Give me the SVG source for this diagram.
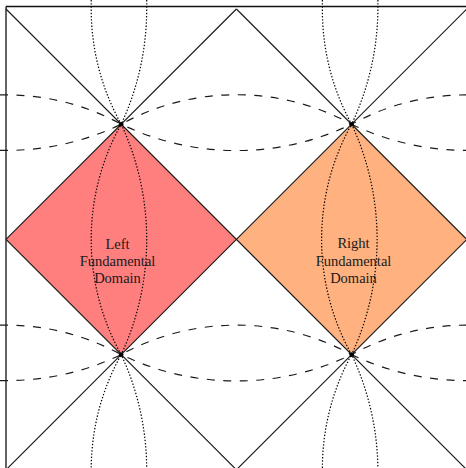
<svg xmlns="http://www.w3.org/2000/svg" width="466" height="468" viewBox="0 0 466 468">
  <style>
    .frame { stroke: #111; stroke-width: 1.3; fill: none; }
    .lattice { stroke: #1a1a1a; stroke-width: 1.15; fill: none; }
    .dash { stroke: #1a1a1a; stroke-width: 1.15; fill: none; stroke-dasharray: 8 8.5; }
    .dot { stroke: #000; stroke-width: 1.2; fill: none; stroke-dasharray: 1.4 1.8; }
    .lbl { font-family: "Liberation Serif", "Times New Roman", serif; font-size: 14.5px; fill: #1a1a1a; text-anchor: middle; }
    .vtx { fill: #000; }
  </style>
  <rect width="466" height="468" fill="#ffffff"/>

  <g id="left-domain">
    <polygon points="6,239.4 121.2,124.2 236.4,239.4 121.2,354.6" fill="#ff7f7f"/>
  </g>
  <g id="right-domain">
    <polygon points="236.4,239.4 351.6,124.2 466.8,239.4 351.6,354.6" fill="#ffb27f"/>
  </g>

  <g id="frame">
    <line class="frame" x1="6" y1="6.5" x2="466" y2="6.5"/>
    <line class="frame" x1="6" y1="6.5" x2="6" y2="468"/>
  </g>

  <g id="connectors">
    <g id="lattice">
      <line class="lattice" x1="6" y1="9" x2="466.8" y2="469.8"/>
      <line class="lattice" x1="236.4" y1="9" x2="466.8" y2="239.4"/>
      <line class="lattice" x1="6" y1="239.4" x2="236.4" y2="469.8"/>
      <line class="lattice" x1="6" y1="239.4" x2="236.4" y2="9"/>
      <line class="lattice" x1="6" y1="469.8" x2="466.8" y2="9"/>
      <line class="lattice" x1="236.4" y1="469.8" x2="466.8" y2="239.4"/>
    </g>
    <g id="dashed-curves">
      <path class="dash" d="M0 94.9 L6 94.9 A239.7 239.7 0 0 1 121.2 124.2 A239.7 239.7 0 0 1 351.6 124.2 A239.7 239.7 0 0 1 466.8 94.9"/>
      <path class="dash" d="M0 150.4 L6 150.4 A265 265 0 0 0 121.2 124.2 A265 265 0 0 0 351.6 124.2 A265 265 0 0 0 466.8 150.4"/>
      <path class="dash" d="M0 325.1 L6 325.1 A239.7 239.7 0 0 1 121.2 354.6 A239.7 239.7 0 0 1 351.6 354.6 A239.7 239.7 0 0 1 466.8 325.1"/>
      <path class="dash" d="M0 380.6 L6 380.6 A265 265 0 0 0 121.2 354.6 A265 265 0 0 0 351.6 354.6 A265 265 0 0 0 466.8 380.6"/>
    </g>
    <g id="dotted-curves">
      <path class="dot" d="M91.2 0 L91.2 9 A236.2 236.2 0 0 0 121.2 124.2 A236.2 236.2 0 0 0 121.2 354.6 A236.2 236.2 0 0 0 91.2 469.8"/>
      <path class="dot" d="M146.7 0 L146.7 9 A273 273 0 0 1 121.2 124.2 A273 273 0 0 1 121.2 354.6 A273 273 0 0 1 146.7 469.8"/>
      <path class="dot" d="M322.4 0 L322.4 9 A236.2 236.2 0 0 0 351.6 124.2 A236.2 236.2 0 0 0 351.6 354.6 A236.2 236.2 0 0 0 322.4 469.8"/>
      <path class="dot" d="M377.9 0 L377.9 9 A273 273 0 0 1 351.6 124.2 A273 273 0 0 1 351.6 354.6 A273 273 0 0 1 377.9 469.8"/>
    </g>
  </g>

  <g id="vertices">
    <circle class="vtx" cx="121.2" cy="124.2" r="2.3"/>
    <circle class="vtx" cx="351.6" cy="124.2" r="2.3"/>
    <circle class="vtx" cx="121.2" cy="354.6" r="2.3"/>
    <circle class="vtx" cx="351.6" cy="354.6" r="2.3"/>
  </g>

  <g id="left-label">
    <text class="lbl" x="117.5" y="248.6">Left</text>
    <text class="lbl" x="117.5" y="266">Fundamental</text>
    <text class="lbl" x="117.5" y="283.4">Domain</text>
  </g>
  <g id="right-label">
    <text class="lbl" x="353.5" y="248">Right</text>
    <text class="lbl" x="353.5" y="265.6">Fundamental</text>
    <text class="lbl" x="353.5" y="283.2">Domain</text>
  </g>
</svg>
